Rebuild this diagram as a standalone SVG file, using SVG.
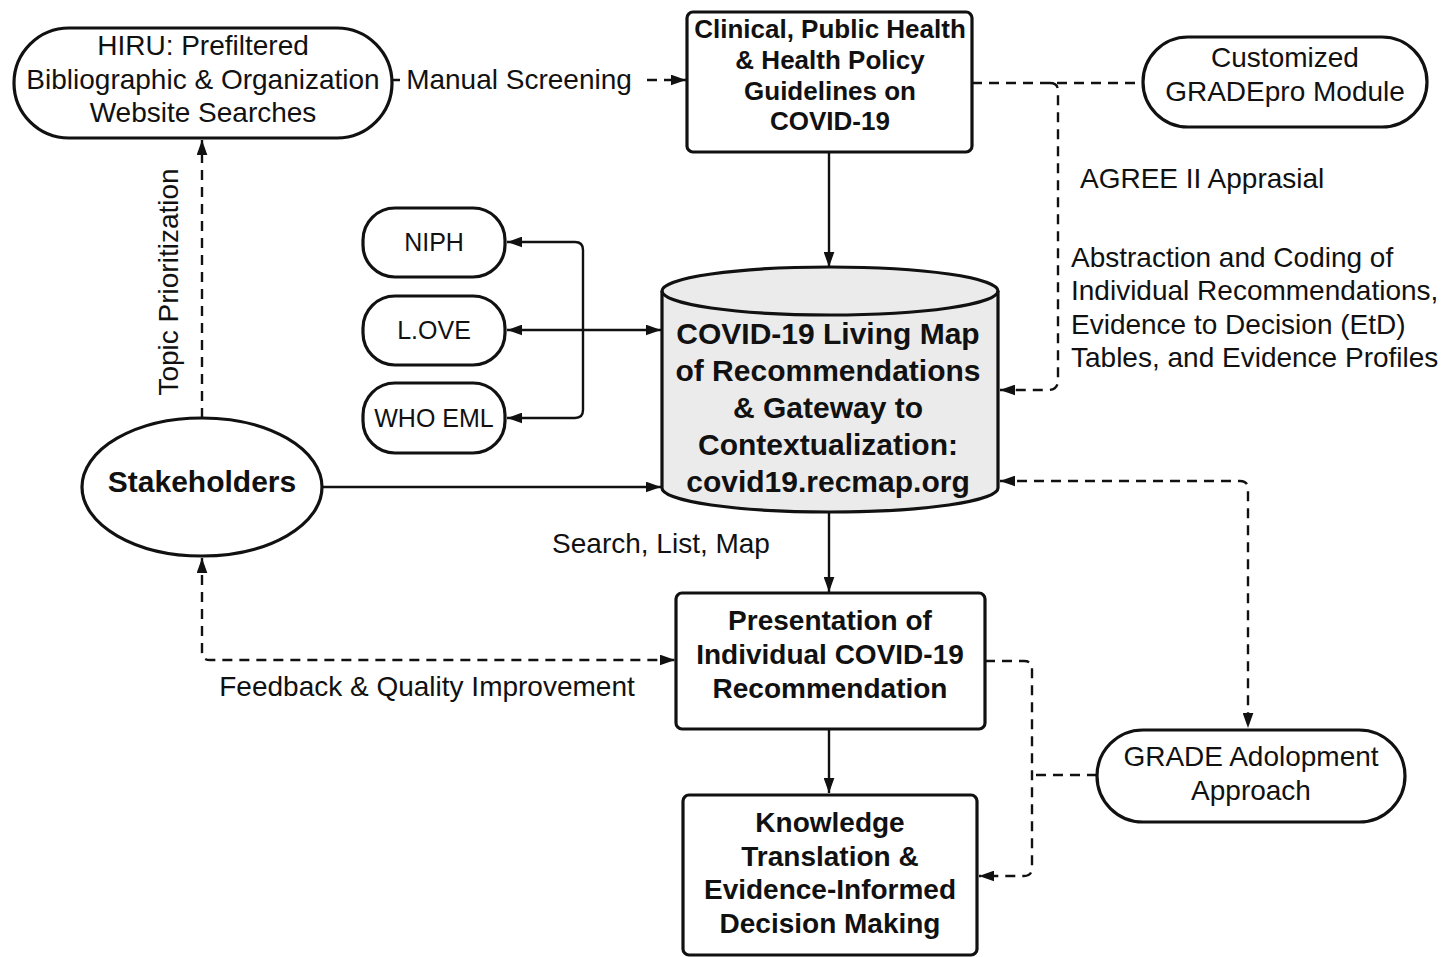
<svg xmlns="http://www.w3.org/2000/svg" width="1450" height="957" viewBox="0 0 1450 957">
<defs>
<style>
text{font-family:"Liberation Sans",Arial,sans-serif;fill:#111;}
.r{font-size:28px;}
.s{font-size:25px;}
.b{font-weight:bold;}
.m{text-anchor:middle;}
.node{fill:#fff;stroke:#111;stroke-width:3.2;}
.c{fill:none;stroke:#111;stroke-width:2.4;}
.d{stroke-dasharray:10 7;}
</style>
<marker id="a" viewBox="0 0 14 10" refX="14" refY="5" markerWidth="15" markerHeight="11" markerUnits="userSpaceOnUse" orient="auto-start-reverse">
<path d="M0,0 L14,5 L0,10 Z" fill="#111"/>
</marker>
</defs>
<rect width="1450" height="957" fill="#fff"/>

<g id="connectors">
<path class="c d" d="M392,80 H686" marker-end="url(#a)"/>
<rect x="400" y="62" width="240" height="36" fill="#fff"/>
<text class="r m" x="519" y="89">Manual Screening</text>
<path class="c d" d="M972,83 H1143"/>
<path class="c d" d="M1050,83 Q1058,83 1058,91 V380 Q1058,390 1048,390 H1000" marker-end="url(#a)"/>
<path class="c" d="M829,152 V267" marker-end="url(#a)"/>
<path class="c" d="M507,330 H661" marker-start="url(#a)" marker-end="url(#a)"/>
<path class="c" d="M507,242 H575 Q583,242 583,250 V410 Q583,418 575,418 H507" marker-start="url(#a)" marker-end="url(#a)"/>
<path class="c" d="M322,487 H661" marker-end="url(#a)"/>
<path class="c d" d="M202,418 V140" marker-end="url(#a)"/>
<path class="c d" d="M202,558 V652 Q202,660 210,660 H675" marker-start="url(#a)" marker-end="url(#a)"/>
<path class="c" d="M829,512 V592" marker-end="url(#a)"/>
<path class="c" d="M829,729 V793" marker-end="url(#a)"/>
<path class="c d" d="M985,661 H1024 Q1032,661 1032,669 V868 Q1032,876 1024,876 H979" marker-end="url(#a)"/>
<path class="c d" d="M1097,775 H1032"/>
<path class="c d" d="M1000,481 H1240 Q1248,481 1248,489 V728" marker-start="url(#a)" marker-end="url(#a)"/>
<text class="r" x="1080" y="188">AGREE II Apprasial</text>
<text class="r" x="1071" y="267">Abstraction and Coding of</text>
<text class="r" x="1071" y="300">Individual Recommendations,</text>
<text class="r" x="1071" y="334">Evidence to Decision (EtD)</text>
<text class="r" x="1071" y="367">Tables, and Evidence Profiles</text>
<text class="r m" transform="translate(178,282) rotate(-90)">Topic Prioritization</text>
<text class="r m" x="661" y="553">Search, List, Map</text>
<text class="r m" x="427" y="696">Feedback &amp; Quality Improvement</text>
</g>

<g id="hiru">
<rect class="node" x="14" y="28" width="378" height="110" rx="55" ry="55"/>
<text class="r m" x="203" y="55">HIRU: Prefiltered</text>
<text class="r m" x="203" y="89">Bibliographic &amp; Organization</text>
<text class="r m" x="203" y="122">Website Searches</text>
</g>

<g id="guidelines">
<rect class="node" x="687" y="12" width="285" height="140" rx="6"/>
<text class="r b m" x="830" y="38" style="font-size:26px">Clinical, Public Health</text>
<text class="r b m" x="830" y="69" style="font-size:26px">&amp; Health Policy</text>
<text class="r b m" x="830" y="100" style="font-size:26px">Guidelines on</text>
<text class="r b m" x="830" y="130" style="font-size:26px">COVID-19</text>
</g>

<g id="gradepro">
<rect class="node" x="1143" y="37" width="284" height="90" rx="45" ry="45"/>
<text class="r m" x="1285" y="67">Customized</text>
<text class="r m" x="1285" y="101">GRADEpro Module</text>
</g>

<g id="niph">
<rect class="node" x="363" y="208" width="142" height="69" rx="32" ry="32"/>
<text class="s m" x="434" y="251">NIPH</text>
</g>
<g id="love">
<rect class="node" x="363" y="296" width="142" height="69" rx="32" ry="32"/>
<text class="s m" x="434" y="339">L.OVE</text>
</g>
<g id="whoeml">
<rect class="node" x="363" y="383" width="142" height="70" rx="32" ry="32"/>
<text class="s m" x="434" y="427">WHO EML</text>
</g>

<g id="recmap">
<path d="M662,291 A168,24 0 0 1 998,291 V488 A168,24 0 0 1 662,488 Z" fill="#ebebeb" stroke="#111" stroke-width="3.2"/>
<path d="M662,291 A168,24 0 0 0 998,291" fill="none" stroke="#111" stroke-width="3.2"/>
<text class="b m" x="828" y="344" style="font-size:30px">COVID-19 Living Map</text>
<text class="b m" x="828" y="381" style="font-size:30px">of Recommendations</text>
<text class="b m" x="828" y="418" style="font-size:30px">&amp; Gateway to</text>
<text class="b m" x="828" y="455" style="font-size:30px">Contextualization:</text>
<text class="b m" x="828" y="492" style="font-size:30px">covid19.recmap.org</text>
</g>

<g id="stakeholders">
<ellipse class="node" cx="202" cy="487" rx="120" ry="69"/>
<text class="b m" x="202" y="492" style="font-size:30px">Stakeholders</text>
</g>

<g id="presentation">
<rect class="node" x="676" y="593" width="309" height="136" rx="6"/>
<text class="r b m" x="830" y="630">Presentation of</text>
<text class="r b m" x="830" y="664">Individual COVID-19</text>
<text class="r b m" x="830" y="698">Recommendation</text>
</g>

<g id="knowledge">
<rect class="node" x="683" y="795" width="294" height="160" rx="6"/>
<text class="r b m" x="830" y="832">Knowledge</text>
<text class="r b m" x="830" y="866">Translation &amp;</text>
<text class="r b m" x="830" y="899">Evidence-Informed</text>
<text class="r b m" x="830" y="933">Decision Making</text>
</g>

<g id="adolopment">
<rect class="node" x="1097" y="730" width="308" height="92" rx="46" ry="46"/>
<text class="r m" x="1251" y="766">GRADE Adolopment</text>
<text class="r m" x="1251" y="800">Approach</text>
</g>
</svg>
